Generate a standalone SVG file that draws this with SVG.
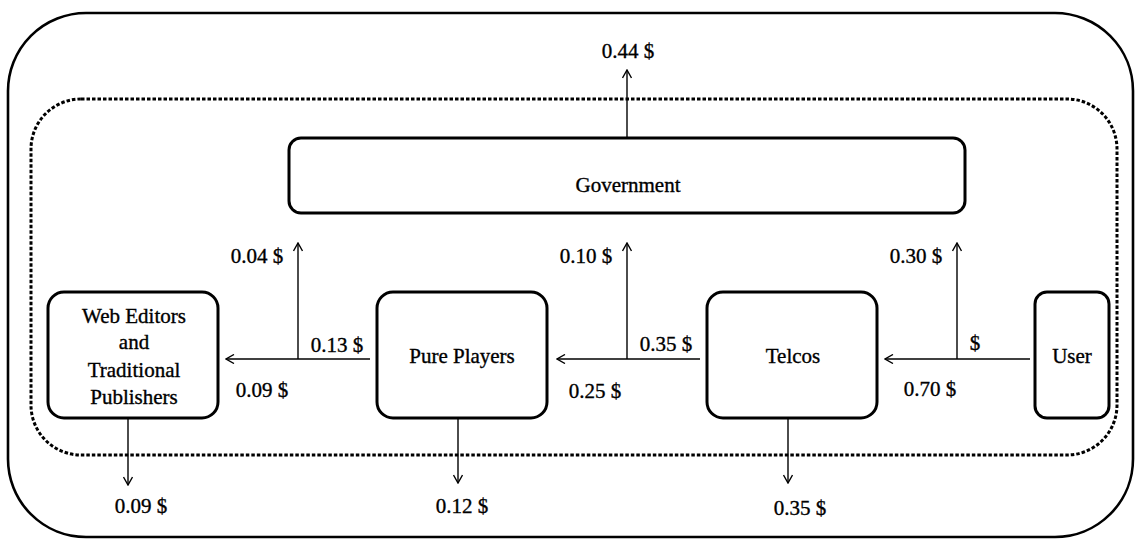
<svg xmlns="http://www.w3.org/2000/svg" width="1135" height="540" viewBox="0 0 1135 540">
  <defs>
    <marker id="head" viewBox="0 0 10 10" refX="9" refY="5" markerWidth="10" markerHeight="10" markerUnits="userSpaceOnUse" orient="auto">
      <path d="M1,0.5 L9,5 L1,9.5" fill="none" stroke="#000" stroke-width="1.4"/>
    </marker>
    <style>
      .mid { text-anchor: middle; }
      .box { fill: #fff; stroke: #000; stroke-width: 3; }
      .flow { fill: none; stroke: #000; stroke-width: 1.4; }
      .arr { marker-end: url(#head); }
      text { stroke: #000; stroke-width: 0.35; }
    </style>
  </defs>
  <rect width="1135" height="540" fill="#fff"/>

  <!-- outer boundary -->
  <rect id="outer" x="8" y="13" width="1125" height="524" rx="78" ry="78" fill="none" stroke="#000" stroke-width="2.6"/>
  <!-- inner dotted boundary -->
  <rect id="inner" x="31" y="99" width="1086" height="356" rx="50" ry="50" fill="none" stroke="#000" stroke-width="3" stroke-dasharray="3.5 2"/>

  <g id="connectors">
    <!-- tax to outside -->
    <line class="flow arr" x1="627" y1="147" x2="627" y2="70"/>
    <!-- User to Telcos -->
    <line class="flow arr" x1="1030" y1="359" x2="885" y2="359"/>
    <line class="flow arr" x1="957" y1="359" x2="957" y2="243"/>
    <!-- Telcos to Pure Players -->
    <line class="flow arr" x1="700" y1="359" x2="557" y2="359"/>
    <line class="flow arr" x1="627" y1="359" x2="627" y2="243"/>
    <!-- Pure Players to Web Editors -->
    <line class="flow arr" x1="370" y1="359" x2="226" y2="359"/>
    <line class="flow arr" x1="298" y1="359" x2="298" y2="243"/>
    <!-- margins kept -->
    <line class="flow arr" x1="128" y1="403" x2="128" y2="485"/>
    <line class="flow arr" x1="458" y1="398" x2="458" y2="483"/>
    <line class="flow arr" x1="788" y1="398" x2="788" y2="483"/>
  </g>

  <g font-family="'Liberation Serif', 'DejaVu Serif', serif" font-size="21" fill="#000">
    <g id="government">
      <rect class="box" x="289" y="138" width="676" height="75" rx="12" ry="12"/>
      <text class="mid" x="628" y="192">Government</text>
    </g>
    <g id="web-editors">
      <rect class="box" x="48" y="292" width="170" height="126" rx="16" ry="16"/>
      <text class="mid" x="134" y="323">Web Editors</text>
      <text class="mid" x="134" y="349">and</text>
      <text class="mid" x="134" y="377">Traditional</text>
      <text class="mid" x="134" y="404">Publishers</text>
    </g>
    <g id="pure-players">
      <rect class="box" x="377" y="292" width="170" height="126" rx="16" ry="16"/>
      <text class="mid" x="462" y="363">Pure Players</text>
    </g>
    <g id="telcos">
      <rect class="box" x="707" y="292" width="170" height="126" rx="16" ry="16"/>
      <text class="mid" x="793" y="363">Telcos</text>
    </g>
    <g id="user">
      <rect class="box" x="1035" y="292" width="74" height="126" rx="12" ry="12"/>
      <text class="mid" x="1072" y="363">User</text>
    </g>

    <g id="amounts">
      <text class="mid" x="628" y="58">0.44 $</text>
      <text class="mid" x="257" y="263">0.04 $</text>
      <text class="mid" x="586" y="263">0.10 $</text>
      <text class="mid" x="916" y="263">0.30 $</text>
      <text class="mid" x="337" y="352">0.13 $</text>
      <text class="mid" x="666" y="351">0.35 $</text>
      <text class="mid" x="975" y="350">$</text>
      <text class="mid" x="262" y="397">0.09 $</text>
      <text class="mid" x="595" y="398">0.25 $</text>
      <text class="mid" x="930" y="396">0.70 $</text>
      <text class="mid" x="141" y="513">0.09 $</text>
      <text class="mid" x="462" y="513">0.12 $</text>
      <text class="mid" x="800" y="515">0.35 $</text>
    </g>
  </g>
</svg>
